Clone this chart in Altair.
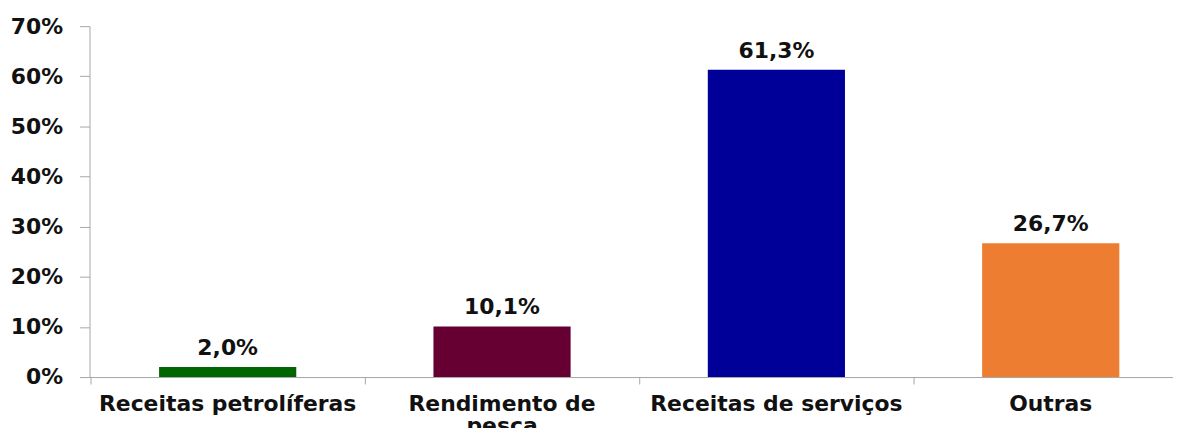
import altair as alt
import pandas as pd

categories = ["Receitas petrolíferas", "Rendimento de pesca", "Receitas de serviços", "Outras"]
values = [2.0, 10.1, 61.3, 26.7]
colors = ["#006600", "#660033", "#000099", "#ED7D31"]
boundaries = [0, 1, 2, 3]

df = pd.DataFrame({
    "cat": categories,
    "val": values,
    "label": [f"{v:.1f}".replace(".", ",") + "%" for v in values],
})
bdf = pd.DataFrame({"b": boundaries})

FONT = "DejaVu Sans"
W = 1090          # plot width that fits the window
STEP = 276        # category step in pixels (as in the reference)
FIRST = 70        # left edge of first bar, pixels from the axis
ALIGN = FIRST / (W - STEP * (len(categories) - 0.5))

xscale = alt.Scale(
    paddingInner=0.5,
    paddingOuter=(W / STEP - len(categories) + 0.5) / 2,
    align=ALIGN,
)

x = alt.X(
    "cat:N",
    sort=categories,
    title=None,
    scale=xscale,
    axis=alt.Axis(
        labelAngle=0,
        ticks=False,
        labelPadding=17,
        labelFont=FONT,
        labelFontSize=22,
        labelFontWeight="bold",
        labelColor="#111111",
        labelLineHeight=22,
        labelLimit=0,
        domainColor="#A6A6A6",
        labelExpr="datum.value == 'Rendimento de pesca' ? ['Rendimento de', 'pesca'] : datum.value",
    ),
)

y = alt.Y(
    "val:Q",
    title=None,
    scale=alt.Scale(domain=[0, 70], nice=False),
    axis=alt.Axis(
        values=[0, 10, 20, 30, 40, 50, 60, 70],
        labelExpr="datum.value + '%'",
        grid=False,
        tickSize=10,
        labelPadding=17,
        labelFont=FONT,
        labelFontSize=22,
        labelFontWeight="bold",
        labelColor="#111111",
        domainColor="#A6A6A6",
        tickColor="#A6A6A6",
    ),
)

bars = alt.Chart(df).mark_bar().encode(
    x=x,
    y=y,
    color=alt.Color("cat:N", scale=alt.Scale(domain=categories, range=colors), legend=None),
)

text = alt.Chart(df).mark_text(
    dy=-12, baseline="alphabetic", font=FONT, fontSize=22, fontWeight="bold", color="#111111"
).encode(
    x=alt.X("cat:N", sort=categories),
    y="val:Q",
    text="label:N",
)

main = alt.layer(bars, text)

# category boundary ticks on the x axis
d0 = -(FIRST - STEP * 0.25) / STEP
ticks = alt.Chart(bdf).mark_point(opacity=0).encode(
    x=alt.X(
        "b:Q",
        title=None,
        scale=alt.Scale(domain=[d0, d0 + W / STEP], nice=False, zero=False),
        axis=alt.Axis(
            values=boundaries,
            labels=False,
            domain=False,
            grid=False,
            tickSize=7,
            tickColor="#A6A6A6",
            orient="bottom",
        ),
    ),
    y=alt.value(0),
)

chart = (
    alt.layer(main, ticks)
    .resolve_scale(x="independent")
    .properties(
        width=W,
        height=353,
        autosize=alt.AutoSizeParams(type="none"),
        padding={"left": 82, "top": 17, "right": 0, "bottom": 50},
        background="white",
    )
    .configure_view(stroke=None)
)

chart.save("out.html", embed_options={"renderer": "svg", "actions": False})
